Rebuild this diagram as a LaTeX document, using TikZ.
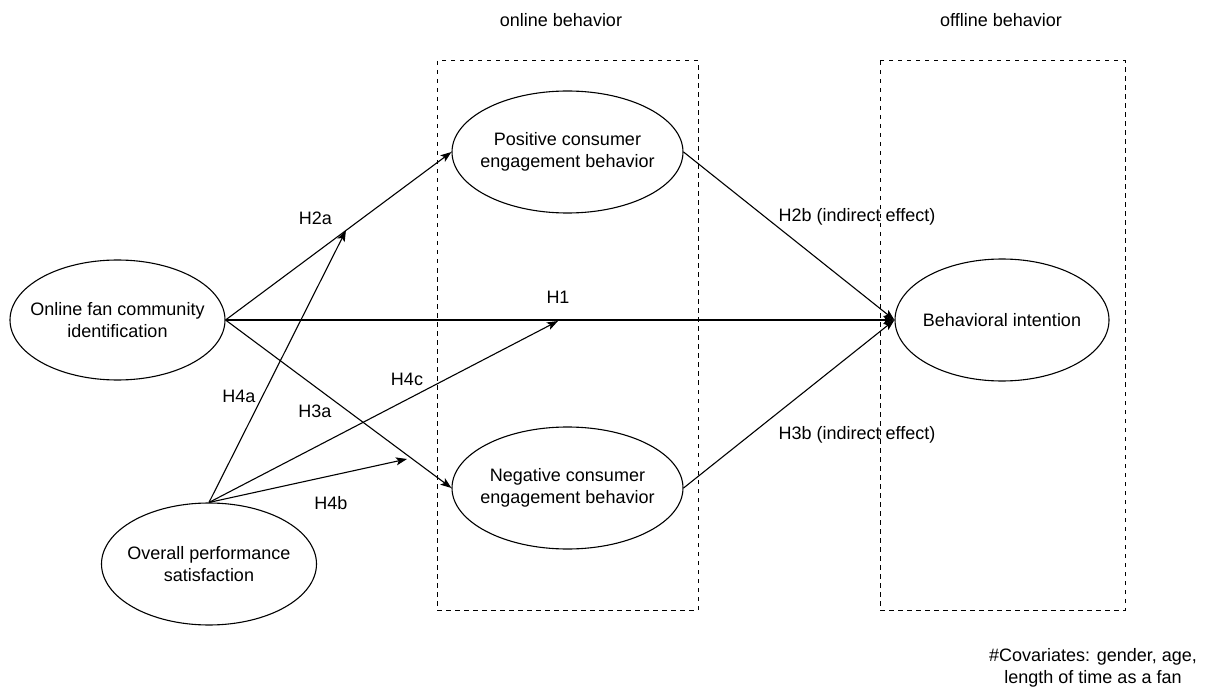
\documentclass[tikz,border=0pt]{standalone}
\usepackage{fontspec}
\setmainfont{Liberation Sans}
\usetikzlibrary{arrows.meta,calc,shapes.geometric}
\begin{document}
\begin{tikzpicture}[x=1pt,y=-1pt,
  every node/.style={font=\fontsize{18}{21.6}\selectfont},
  elps/.style={draw,ellipse,line width=1.1pt,inner sep=0pt},
  lbl/.style={inner sep=0pt,align=center},
  arr/.style={line width=1.1pt,-{Stealth[length=11pt,width=8pt,inset=2.5pt]}},
  grp/.style={draw,line width=1pt,dash pattern=on 4.5pt off 4.5pt}]
\useasboundingbox (0,0) rectangle (1208,695);
% group boxes
\draw[grp] (437,61) rectangle (698,610);
\draw[grp] (880,61) rectangle (1125,610);
\node[lbl] (onl) at (561,20) {online behavior};
\node[lbl] (offl) at (1001,20) {offline behavior};
% ellipses
\node[elps,minimum width=215pt,minimum height=120pt,label={[lbl]center:Online fan community\\identification}] (ofc) at (117.5,320) {};
\node[elps,minimum width=215pt,minimum height=122pt,label={[lbl]center:Overall performance\\satisfaction}] (ops) at (209,564) {};
\node[elps,minimum width=231pt,minimum height=122pt,label={[lbl]center:Positive consumer\\engagement behavior}] (pos) at (567.5,152) {};
\node[elps,minimum width=231pt,minimum height=122pt,label={[lbl]center:Negative consumer\\engagement behavior}] (neg) at (567.5,488) {};
\node[elps,minimum width=214pt,minimum height=122pt,label={[lbl]center:Behavioral intention}] (bi) at (1002,320) {};
% target points of moderating arrows
\coordinate (t4a) at ($(ofc.east)!0.533!(pos.west)$);
\coordinate (t4c) at (558,321);
\coordinate (t4b) at (407,459);
% connectors
\draw[arr] (ofc.east) -- (pos.west);
\draw[arr] (ofc.east) -- (bi.west);
\draw[arr] (ofc.east) -- (neg.west);
\draw[arr] (pos.east) -- (bi.west);
\draw[arr] (neg.east) -- (bi.west);
\draw[arr] (ops.north) -- (t4a);
\draw[arr] (ops.north) -- (t4c);
\draw[arr] (ops.north) -- (t4b);
% labels
\node[lbl] (lh2a) at (315.5,218) {H2a};
\node[lbl] (lh1) at (558,297) {H1};
\node[lbl] (lh3a) at (315,411) {H3a};
\node[lbl] (lh4a) at (239,396) {H4a};
\node[lbl] (lh4c) at (407,379) {H4c};
\node[lbl] (lh4b) at (331,503) {H4b};
\node[lbl] (lh2b) at (857,217) {H2b (indirect effect)};
\node[lbl] (lh3b) at (857,435) {H3b (indirect effect)};
\node[lbl] (cov) at (1093,668) {\#Covariates: gender, age,\\length of time as a fan};
\end{tikzpicture}
\end{document}
